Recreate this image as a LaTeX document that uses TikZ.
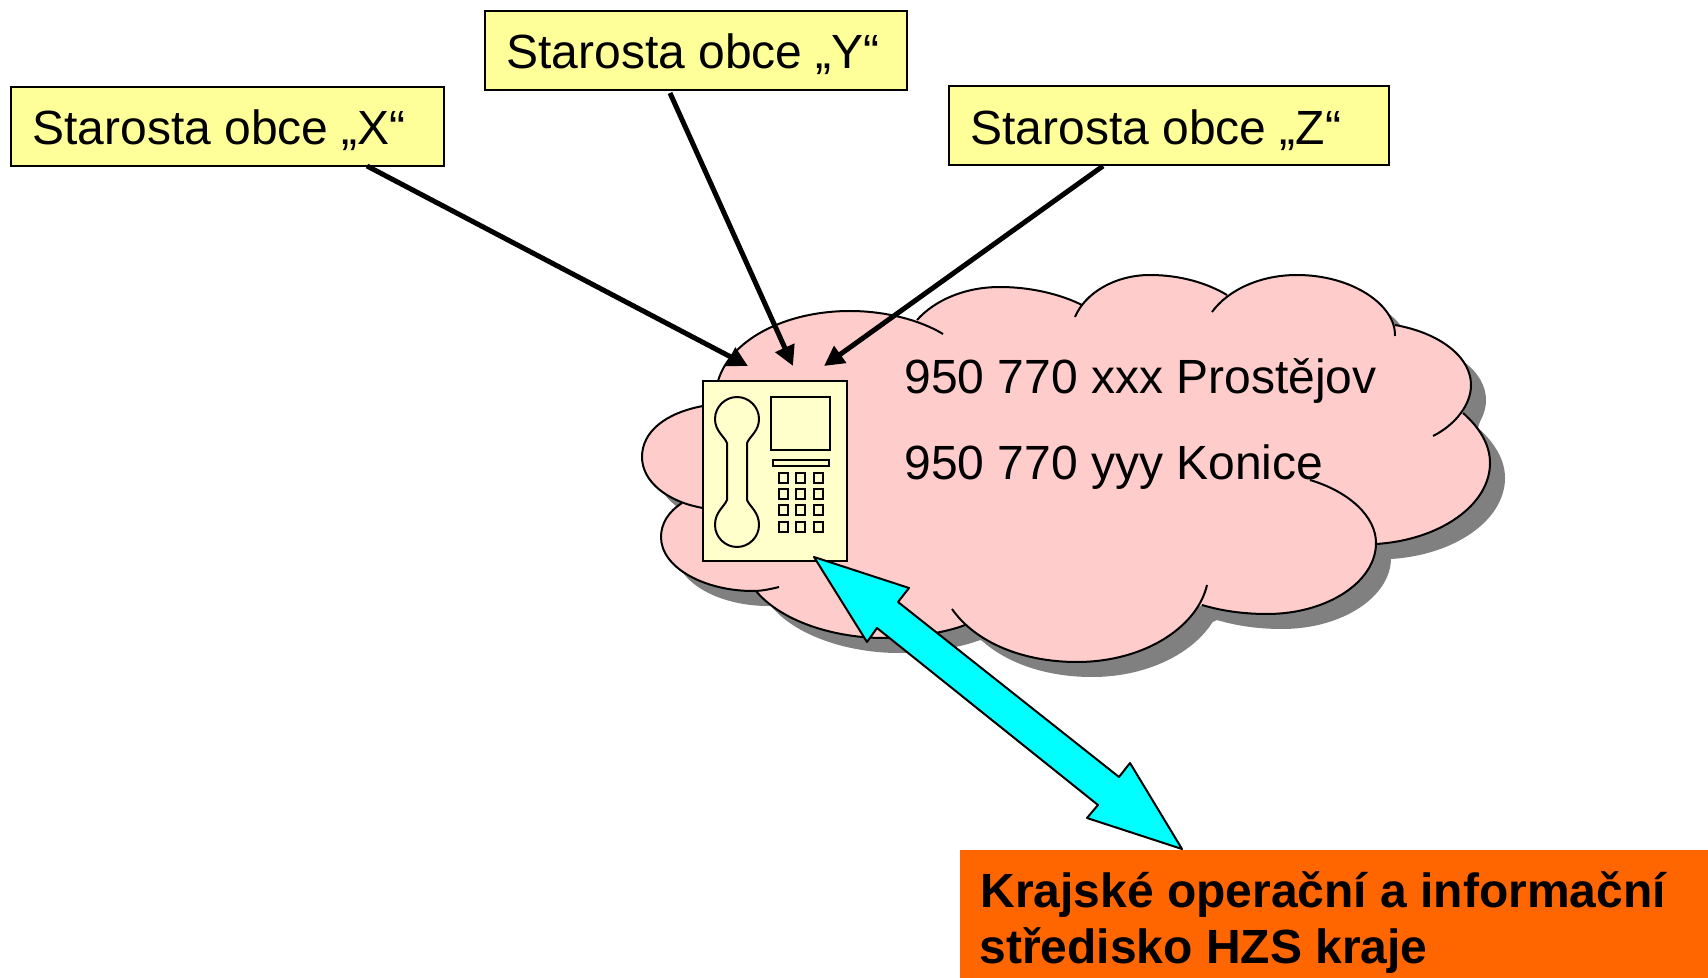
\documentclass[tikz,border=0pt]{standalone}
\usepackage{fontspec}
\setmainfont{Liberation Sans}
\usetikzlibrary{arrows.meta}
\definecolor{cloudpink}{HTML}{FFCCCC}
\definecolor{cloudshadow}{HTML}{808080}
\definecolor{boxyellow}{HTML}{FFFF99}
\definecolor{phoneyellow}{HTML}{FFFFCC}
\definecolor{hzsorange}{HTML}{FF6600}
\definecolor{linkcyan}{HTML}{00FFFF}
\tikzset{
  callbox/.style={draw=black,line width=1pt,fill=boxyellow,anchor=north west,minimum height=39.5pt,inner sep=0pt,outer sep=0pt},
  boxlabel/.style={anchor=base west,inner sep=0pt,font=\fontsize{24}{28}\selectfont},
  pointer/.style={draw=black,line width=2.5pt,-{Triangle[length=10pt,width=10pt]}},
  keyshape/.style={draw=black,line width=1pt},
}
\newcommand{\drawlobes}[1]{%
 \path[#1] (703,406) .. controls (665,413) and (642,432) .. (642,457) .. controls (642,482) and (668,502) .. (703,508);
 \path[#1] (682,503) .. controls (668,512) and (661,524) .. (661,537) .. controls (661,568) and (705,591) .. (753,591) .. controls (762,591) and (771,589) .. (779,587);
 \path[#1] (756,591) .. controls (780,620) and (830,637) .. (880,638) .. controls (910,638) and (945,633) .. (965,625);
 \path[#1] (952,609) .. controls (975,642) and (1022,662) .. (1077,662) .. controls (1143,662) and (1197,628) .. (1207,585);
 \path[#1] (1202,605) .. controls (1222,611) and (1244,614) .. (1267,614) .. controls (1327,614) and (1376,582) .. (1376,543) .. controls (1376,517) and (1350,492) .. (1310,480);
 \path[#1] (1376,544) .. controls (1440,540) and (1490,505) .. (1490,463) .. controls (1490,445) and (1480,428) .. (1463,413);
 \path[#1] (1433,436) .. controls (1455,425) and (1471,405) .. (1471,385) .. controls (1471,357) and (1440,333) .. (1395,325);
 \path[#1] (1395,336) .. controls (1396,305) and (1352,275) .. (1297,275) .. controls (1260,275) and (1228,290) .. (1212,312);
 \path[#1] (1227,295) .. controls (1207,283) and (1180,275) .. (1150,275) .. controls (1115,275) and (1085,293) .. (1075,317);
 \path[#1] (1082,305) .. controls (1060,294) and (1030,287) .. (1000,287) .. controls (965,287) and (935,300) .. (917,320);
 \path[#1] (943,334) .. controls (920,320) and (885,311) .. (850,311) .. controls (785,311) and (730,340) .. (718,381);
}
\newcommand{\cloudcore}[1]{%
 \path[#1] (718,381)--(850,311)--(917,320)--(1000,287)--(1082,305)--(1150,275)--(1227,295)--(1297,275)--(1395,325)--(1471,385)--(1463,413)--(1490,463)--(1376,544)--(1267,614)--(1202,605)--(1077,662)--(965,625)--(880,638)--(756,591)--(661,537)--(682,503)--(642,457)--(703,406)--cycle;
}
\begin{document}
\begin{tikzpicture}[x=0.5pt,y=-0.5pt]
\useasboundingbox (0,0) rectangle (1708,978);
% cloud shadow
\begin{scope}[shift={(15,15)}]
 \cloudcore{fill=cloudshadow}
 \drawlobes{fill=cloudshadow}
\end{scope}
% cloud body
\cloudcore{fill=cloudpink}
\drawlobes{fill=cloudpink}
\drawlobes{draw=black,line width=1pt}
% numbers
\node[boxlabel] (numx) at (904,393.5) {950 770 xxx Prostějov};
\node[boxlabel] (numy) at (904,480) {950 770 yyy Konice};
% phone
\node[draw=black,line width=1pt,fill=phoneyellow,minimum width=72pt,minimum height=90pt,inner sep=0pt,outer sep=0pt,anchor=north west] (phone) at (703,381) {};
\draw[draw=black,line width=1pt,fill=phoneyellow] (727,443) -- (727,500) .. controls (724,507) and (715,512) .. (715,525) .. controls (715,537) and (725,547) .. (737,547) .. controls (749,547) and (759,537) .. (759,525) .. controls (759,512) and (750,507) .. (747,500) -- (747,443) .. controls (750,436) and (759,431) .. (759,419) .. controls (759,407) and (749,397) .. (737,397) .. controls (725,397) and (715,407) .. (715,419) .. controls (715,431) and (724,436) .. (727,443) -- cycle;
\draw[keyshape] (770.5,397) rectangle (830,450);
\draw[keyshape] (772.5,460) rectangle (829,466);
\foreach \kx in {783,800,818} \foreach \ky in {478,494,510,527}
  \draw[keyshape] (\kx-4.5,\ky-5) rectangle (\kx+4.5,\ky+5);
% callout boxes
\node[callbox,minimum width=216.5pt] (bx) at (11,87) {};
\node[boxlabel] (tx) at (32,144.5) {Starosta obce „X“};
\node[callbox,minimum width=211pt] (by) at (485,11) {};
\node[boxlabel] (ty) at (506,68.5) {Starosta obce „Y“};
\node[callbox,minimum width=220pt] (bz) at (949,86) {};
\node[boxlabel] (tz) at (970,144.5) {Starosta obce „Z“};
% pointers
\coordinate (tipx) at (748,366);
\coordinate (tipy) at (793,366);
\coordinate (tipz) at (824,366);
\draw[pointer] (bx.south west)+(356,0) -- (tipx);
\draw[pointer] (by.south west)+(185,3) -- (tipy);
\draw[pointer] (bz.south west)+(154,1) -- (tipz);
% regional centre
\node[fill=hzsorange,minimum width=374pt,minimum height=64pt,inner sep=0pt,outer sep=0pt,anchor=north west] (kois) at (960,850) {};
\node[boxlabel,font=\fontsize{24}{28}\selectfont\bfseries] (k1) at (980,907) {Krajské operační a informační};
\node[boxlabel,font=\fontsize{24}{28}\selectfont\bfseries] (k2) at (979,963) {středisko HZS kraje};
% double arrow
\draw[black,line width=1pt,fill=linkcyan,line join=round] (814,557)--(909,588)--(898,602)--(1119,777)--(1130,763)--(1182,849)--(1087,818)--(1098,805)--(877,628)--(867,642)--cycle;
\end{tikzpicture}
\end{document}
